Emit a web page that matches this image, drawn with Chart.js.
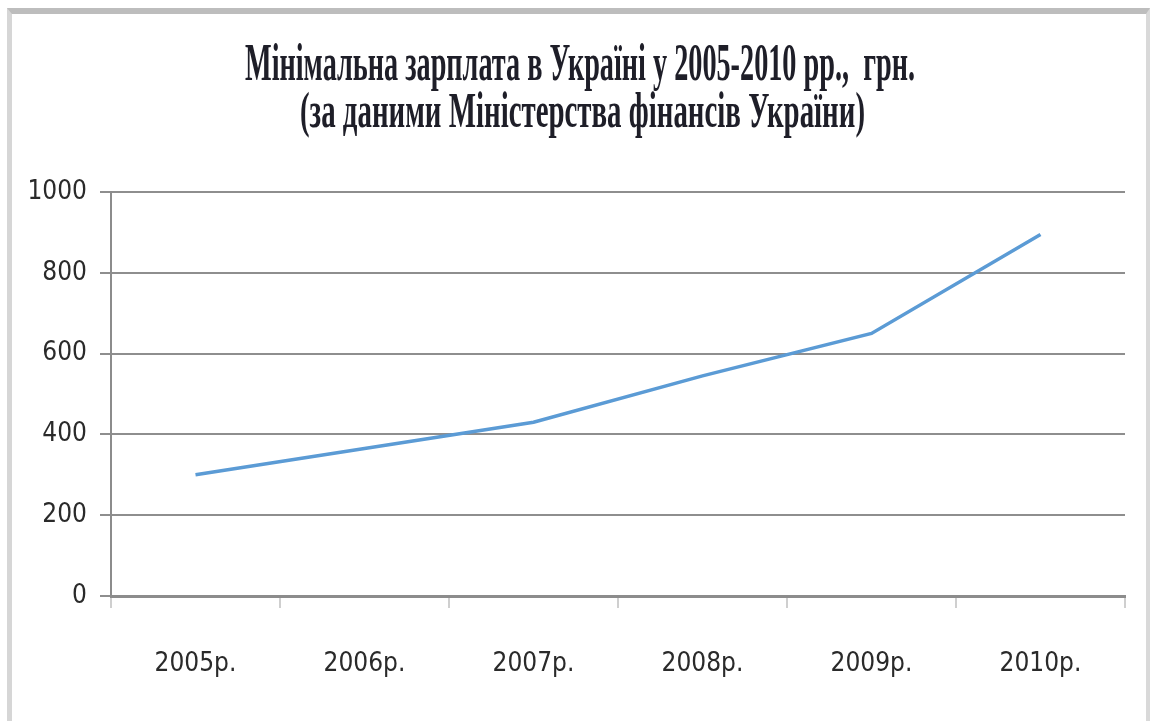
<!DOCTYPE html>
<html>
<head>
<meta charset="utf-8">
<script src="https://cdn.jsdelivr.net/npm/chart.js@4"></script>
<style>
  html, body { margin: 0; padding: 0; background: #fff; overflow: hidden; }
  #frame {
    position: absolute; left: 7px; top: 8px; width: 1134px; height: 760px;
    border-top: 6px solid #bdbdbd; border-left: 5px solid #d6d6d6; border-right: 4px solid #d9d9d9;
  }
  #wrap { position: absolute; left: 0; top: 0; width: 1154px; height: 721px; }
  .title-line {
    position: absolute; left: 0; white-space: pre;
    font-family: "Liberation Serif", "Times New Roman", serif; font-weight: bold;
    color: #1e1e28; transform-origin: 0 0;
  }
</style>
</head>
<body>
<div id="frame"></div>
<div id="wrap"><canvas id="canvas__line"></canvas></div>
<div class="title-line" id="title1">Мінімальна зарплата в Україні у 2005-2010 рр.,  грн.</div>
<div class="title-line" id="title2">(за даними Міністерства фінансів України)</div>
<script>
const ctxLine = document.querySelector("#canvas__line");

const years = ['2005р.', '2006р.', '2007р.', '2008р.', '2009р.', '2010р.'];
const minWage = [300, 365, 430, 545, 650, 895];
const yTicks = [0, 200, 400, 600, 800, 1000];

// title: narrow, tall serif like the original picture
function placeTitle(id, centerX, top, size, width) {
  const el = document.getElementById(id);
  el.style.fontSize = size + 'px';
  el.style.top = top + 'px';
  const natural = el.getBoundingClientRect().width;
  const k = width / natural;
  el.style.left = (centerX - width / 2) + 'px';
  el.style.transform = 'scaleX(' + k + ')';
}
placeTitle('title1', 580, 33, 52, 670);
placeTitle('title2', 582, 81, 50, 565);

const tickFont = { family: "'Liberation Sans Narrow', 'Arial Narrow', 'DejaVu Sans Condensed', sans-serif", size: 26 };

const lineConfig = {
  type: 'line',
  data: {
    labels: years,
    datasets: [{
      label: 'Мінімальна зарплата',
      data: minWage,
      borderColor: '#5b9bd5',
      borderWidth: 3.5,
      pointRadius: 0,
      tension: 0,
      fill: false
    }]
  },
  options: {
    responsive: false,
    animation: false,
    layout: { padding: { left: 0, right: 29, top: 192, bottom: 0 } },
    plugins: {
      legend: { display: false },
      title: { display: false },
      tooltip: { enabled: false }
    },
    scales: {
      x: {
        offset: true,
        grid: {
          offset: true,
          drawOnChartArea: false,
          drawTicks: true,
          tickLength: 12,
          color: '#cfcfcf',
          lineWidth: 2
        },
        border: { color: '#8c8c8c', width: 3 },
        ticks: { color: '#2a2a2a', font: tickFont, padding: 41, maxRotation: 0 },
        afterFit: (scale) => { scale.height = 125; }
      },
      y: {
        min: 0,
        max: 1000,
        afterBuildTicks: (scale) => { scale.ticks = yTicks.map(v => ({ value: v })); },
        grid: { color: '#8e8e8e', lineWidth: 2, tickLength: 11 },
        border: { color: '#8c8c8c', width: 2 },
        ticks: { color: '#2a2a2a', font: tickFont, padding: 13, callback: (v) => String(v) },
        afterFit: (scale) => { scale.width = 111; }
      }
    }
  }
};

ctxLine.width = 1154;
ctxLine.height = 721;
const minWageChart = new Chart(ctxLine, lineConfig);
</script>
</body>
</html>
